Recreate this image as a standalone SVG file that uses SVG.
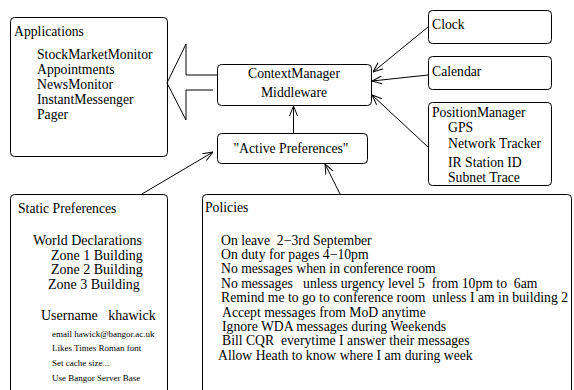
<svg xmlns="http://www.w3.org/2000/svg" width="574" height="390" viewBox="0 0 574 390">
<style>
text{font-family:"Liberation Serif","Times New Roman",serif;font-size:13.7px;fill:#000;white-space:pre}
.s{font-size:9px}
.z{font-size:14px}
.p{font-size:13.7px}
.box{fill:#fff;stroke:#000;stroke-width:1}
.ln{fill:none;stroke:#000;stroke-width:1}
</style>
<defs>
<marker id="ah" viewBox="0 0 10 10" refX="10" refY="5" markerWidth="10" markerHeight="10" markerUnits="userSpaceOnUse" orient="auto">
<path d="M0,1 L10,5 L0,9" fill="none" stroke="#000" stroke-width="1"/>
</marker>
</defs>
<rect width="574" height="390" fill="#fff"/>
<g id="applications">
<rect class="box" x="10.5" y="17.5" width="157" height="139" rx="4"/>
<text x="14" y="36">Applications</text>
<text x="37" y="59">StockMarketMonitor</text>
<text x="37" y="74">Appointments</text>
<text x="37" y="89">NewsMonitor</text>
<text x="37" y="104">InstantMessenger</text>
<text x="37" y="119">Pager</text>
</g>
<g id="contextmanager">
<rect class="box" x="217.5" y="64.5" width="154" height="41" rx="4"/>
<text x="294" y="78" text-anchor="middle">ContextManager</text>
<text x="294" y="97" text-anchor="middle">Middleware</text>
</g>
<g id="activeprefs">
<rect class="box" x="217.5" y="133.5" width="150" height="30" rx="4"/>
<text x="291" y="153" text-anchor="middle">"Active Preferences"</text>
</g>
<g id="clock">
<rect class="box" x="428.5" y="10.5" width="123" height="33" rx="4"/>
<text x="432" y="29">Clock</text>
</g>
<g id="calendar">
<rect class="box" x="428.5" y="56.5" width="123" height="33" rx="4"/>
<text x="432" y="76">Calendar</text>
</g>
<g id="positionmanager">
<rect class="box" x="428.5" y="102.5" width="123" height="83" rx="4"/>
<text x="432" y="117">PositionManager</text>
<text x="448" y="132">GPS</text>
<text x="448" y="148">Network Tracker</text>
<text x="448" y="167">IR Station ID</text>
<text x="448" y="182">Subnet Trace</text>
</g>
<g id="staticprefs">
<rect class="box" x="10.5" y="194.5" width="157" height="210" rx="4"/>
<text x="18" y="213">Static Preferences</text>
<text class="z" x="33" y="245">World Declarations</text>
<text class="z" x="51" y="260">Zone 1 Building</text>
<text class="z" x="51" y="274">Zone 2 Building</text>
<text class="z" x="48" y="289">Zone 3 Building</text>
<text class="z" x="41" y="320">Username   khawick</text>
<text class="s" x="52" y="337">email hawick@bangor.ac.uk</text>
<text class="s" x="52" y="351">Likes Times Roman font</text>
<text class="s" x="52" y="366">Set cache size...</text>
<text class="s" x="52" y="381">Use Bangor Server Base</text>
</g>
<g id="policies">
<rect class="box" x="202.5" y="194.5" width="369" height="210" rx="4"/>
<text x="205" y="212">Policies</text>
<text class="p" x="221" y="245">On leave  2−3rd September</text>
<text class="p" x="221" y="259">On duty for pages 4−10pm</text>
<text class="p" x="221" y="273">No messages when in conference room</text>
<text class="p" x="221" y="288">No messages   unless urgency level 5  from 10pm to  6am</text>
<text class="p" x="221" y="302">Remind me to go to conference room  unless I am in building 2</text>
<text class="p" x="222" y="317">Accept messages from MoD anytime</text>
<text class="p" x="222" y="331">Ignore WDA messages during Weekends</text>
<text class="p" x="222" y="345">Bill CQR  everytime I answer their messages</text>
<text class="p" x="218" y="360">Allow Heath to know where I am during week</text>
</g>
<g id="connectors">
<path class="ln" d="M217,75 L186,75 L186,44 L167,83 L186,120 L186,90 L213,90"/>
<line class="ln" x1="293.5" y1="133" x2="293.5" y2="106" marker-end="url(#ah)"/>
<line class="ln" x1="428" y1="27" x2="373" y2="72" marker-end="url(#ah)"/>
<line class="ln" x1="428" y1="75" x2="372" y2="81" marker-end="url(#ah)"/>
<line class="ln" x1="428" y1="147" x2="372" y2="95" marker-end="url(#ah)"/>
<line class="ln" x1="142" y1="194" x2="213" y2="152" marker-end="url(#ah)"/>
<line class="ln" x1="340" y1="194" x2="325" y2="164" marker-end="url(#ah)"/>
</g>
</svg>
